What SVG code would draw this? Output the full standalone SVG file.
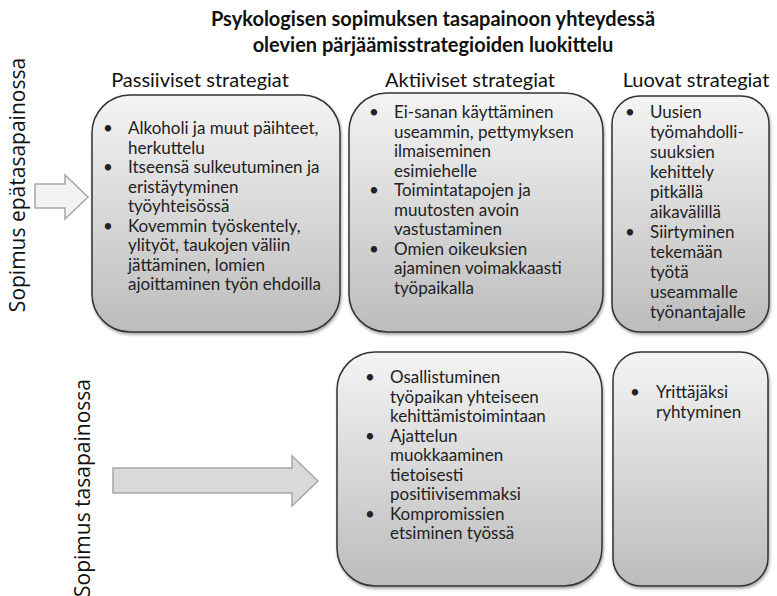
<svg xmlns="http://www.w3.org/2000/svg" width="777" height="596" viewBox="0 0 777 596">
<defs>
<linearGradient id="boxGrad" x1="0" y1="0" x2="0" y2="1">
<stop offset="0" stop-color="#f4f4f4"/>
<stop offset="1" stop-color="#bcbcbc"/>
</linearGradient>
<filter id="shadow" x="-10%" y="-10%" width="120%" height="120%">
<feDropShadow dx="1" dy="2" stdDeviation="1.5" flood-color="#000" flood-opacity="0.35"/>
</filter>
<style>
.box{fill:url(#boxGrad);stroke:#333;stroke-width:1.5;filter:url(#shadow)}
.title{font-family:Lato,"Liberation Sans",sans-serif;font-weight:bold;font-size:20px;fill:#111;text-anchor:middle}
.head{font-family:Lato,"Liberation Sans",sans-serif;font-size:20px;fill:#111;text-anchor:middle}
.side{font-family:"Open Sans","Liberation Sans",sans-serif;font-size:21px;fill:#111;text-anchor:middle}
.t{font-family:Lato,"Liberation Sans",sans-serif;font-size:17px;fill:#222}
.tb{font-family:Lato,"Liberation Sans",sans-serif;font-size:17px;fill:#222}
.arrowL{fill:#f2f2f2;stroke:#a6a6a6;stroke-width:1.5}
.arrowD{fill:#d9d9d9;stroke:#a6a6a6;stroke-width:1.5}
</style>
</defs>
<rect width="777" height="596" fill="#fff"/>

<g id="title">
<text class="title" x="433" y="26">Psykologisen sopimuksen tasapainoon yhteydessä</text>
<text class="title" x="433" y="52">olevien pärjäämisstrategioiden luokittelu</text>
</g>

<g id="headers">
<text class="head" x="200" y="87">Passiiviset strategiat</text>
<text class="head" x="470" y="87">Aktiiviset strategiat</text>
<text class="head" x="696" y="87">Luovat strategiat</text>
</g>

<g id="row-labels">
<text class="side" transform="translate(25,185) rotate(-90)">Sopimus epätasapainossa</text>
<text class="side" transform="translate(90,488) rotate(-90)">Sopimus tasapainossa</text>
</g>

<g id="connectors">
<polygon class="arrowL" points="35,184 65,184 65,175 88,197 65,219 65,208 35,208"/>
<polygon class="arrowD" points="113,468 292,468 292,456 318,481 292,506 292,493 113,493"/>
</g>

<g id="passive-unbalanced">
<rect class="box" x="92" y="95" width="248" height="237" rx="38" ry="38"/>
<g class="t">
<text x="103" y="134">•</text><text x="128" y="134">Alkoholi ja muut päihteet,</text>
<text x="128" y="153.5">herkuttelu</text>
<text x="103" y="173">•</text><text x="128" y="173">Itseensä sulkeutuminen ja</text>
<text x="128" y="192.5">eristäytyminen</text>
<text x="128" y="212">työyhteisössä</text>
<text x="103" y="231.5">•</text><text x="128" y="231.5">Kovemmin työskentely,</text>
<text x="128" y="251">ylityöt, taukojen väliin</text>
<text x="128" y="270.5">jättäminen, lomien</text>
<text x="128" y="290">ajoittaminen työn ehdoilla</text>
</g>
</g>

<g id="active-unbalanced">
<rect class="box" x="349" y="93" width="254" height="239" rx="38" ry="38"/>
<g class="t">
<text x="369" y="118">•</text><text x="394" y="118">Ei-sanan käyttäminen</text>
<text x="394" y="137.5">useammin, pettymyksen</text>
<text x="394" y="157">ilmaiseminen</text>
<text x="394" y="176.5">esimiehelle</text>
<text x="369" y="196">•</text><text x="394" y="196">Toimintatapojen ja</text>
<text x="394" y="215.5">muutosten avoin</text>
<text x="394" y="235">vastustaminen</text>
<text x="369" y="254.5">•</text><text x="394" y="254.5">Omien oikeuksien</text>
<text x="394" y="274">ajaminen voimakkaasti</text>
<text x="394" y="293.5">työpaikalla</text>
</g>
</g>

<g id="creative-unbalanced">
<rect class="box" x="612" y="96" width="157" height="236" rx="28" ry="28"/>
<g class="t">
<text x="625" y="118">•</text><text x="650" y="118">Uusien</text>
<text x="650" y="138">työmahdolli-</text>
<text x="650" y="158">suuksien</text>
<text x="650" y="178">kehittely</text>
<text x="650" y="198">pitkällä</text>
<text x="650" y="218">aikavälillä</text>
<text x="625" y="238">•</text><text x="650" y="238">Siirtyminen</text>
<text x="650" y="258">tekemään</text>
<text x="650" y="278">työtä</text>
<text x="650" y="298">useammalle</text>
<text x="650" y="318">työnantajalle</text>
</g>
</g>

<g id="active-balanced">
<rect class="box" x="337" y="352" width="265" height="234" rx="38" ry="38"/>
<g class="tb">
<text x="365" y="383">•</text><text x="390" y="383">Osallistuminen</text>
<text x="390" y="402.5">työpaikan yhteiseen</text>
<text x="390" y="422">kehittämistoimintaan</text>
<text x="365" y="441.5">•</text><text x="390" y="441.5">Ajattelun</text>
<text x="390" y="461">muokkaaminen</text>
<text x="390" y="480.5">tietoisesti</text>
<text x="390" y="500">positiivisemmaksi</text>
<text x="365" y="519.5">•</text><text x="390" y="519.5">Kompromissien</text>
<text x="390" y="539">etsiminen työssä</text>
</g>
</g>

<g id="creative-balanced">
<rect class="box" x="613" y="352" width="155" height="234" rx="28" ry="28"/>
<g class="tb">
<text x="630" y="398">•</text><text x="656" y="398">Yrittäjäksi</text>
<text x="656" y="418">ryhtyminen</text>
</g>
</g>
</svg>
